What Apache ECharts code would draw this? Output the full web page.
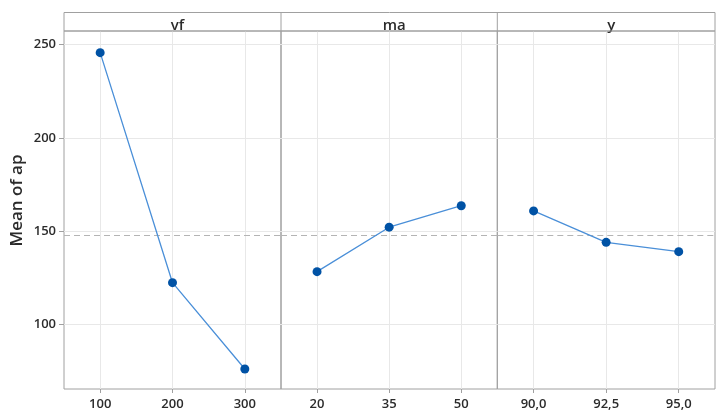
<!DOCTYPE html>
<html>
<head>
<meta charset="utf-8">
<script src="https://cdn.jsdelivr.net/npm/echarts@6/dist/echarts.min.js"></script>
<style>
  html, body { margin: 0; padding: 0; background: #fff; }
  #main { width: 725px; height: 420px; }
</style>
</head>
<body>
<div id="main"></div>
<script>
// data
var factors = ['vf', 'ma', 'y'];
var levelsVf = ['100', '200', '300'];
var levelsMa = ['20', '35', '50'];
var levelsY = ['90,0', '92,5', '95,0'];
var meansVf = [245.6, 122.5, 76.3];
var meansMa = [128.4, 152.2, 163.7];
var meansY = [160.9, 144.1, 139.1];
var grandMean = 148.0;
var yTicks = [100, 150, 200, 250];

var levels = [levelsVf, levelsMa, levelsY];
var means = [meansVf, meansMa, meansY];

// panel layout (px)
var plotLeft = 64, plotRight = 715, plotTop = 31, plotBottom = 389, headTop = 12.5;
var edges = [64, 281, 497.3, 715];

var fontFam = '"Open Sans", "Noto Sans", sans-serif';
var textCol = '#2b2b2b';
var frameCol = '#a0a0a0';
var gridCol = '#e8e8e8';

function initChart() {
    var myChart = echarts.init(document.getElementById('main'), null, {renderer: 'canvas'});

    var grids = [], xAxes = [], yAxes = [], series = [], titles = [];
    for (let i = 0; i < 3; i++) {
        grids.push({
            left: edges[i],
            width: edges[i + 1] - edges[i],
            top: plotTop,
            height: plotBottom - plotTop,
            show: true,
            borderColor: frameCol,
            borderWidth: 1
        });
        let labs = levels[i];
        xAxes.push({
            type: 'value',
            gridIndex: i,
            min: 0.5,
            max: 3.5,
            axisLine: { show: false },
            axisTick: {
                show: true,
                customValues: [1, 2, 3],
                length: 4,
                lineStyle: { color: frameCol }
            },
            axisLabel: {
                customValues: [1, 2, 3],
                formatter: function(v) { return labs[Math.round(v) - 1]; },
                fontSize: 13,
                fontWeight: 600,
                color: textCol,
                fontFamily: fontFam,
                margin: 9
            },
            splitLine: { show: true, lineStyle: { color: gridCol } }
        });
        yAxes.push({
            type: 'value',
            gridIndex: i,
            min: 65.6,
            max: 257.2,
            name: i === 0 ? 'Mean of ap' : '',
            nameLocation: 'middle',
            nameGap: 38,
            nameTextStyle: {
                fontSize: 17,
                fontWeight: 600,
                color: textCol,
                fontFamily: fontFam,
                padding: [0, 0, 0, 19]
            },
            axisLine: { show: false },
            axisTick: {
                show: i === 0,
                customValues: yTicks,
                length: 5,
                lineStyle: { color: frameCol }
            },
            axisLabel: {
                show: i === 0,
                customValues: yTicks,
                fontSize: 13,
                fontWeight: 600,
                color: textCol,
                fontFamily: fontFam,
                margin: 8
            },
            splitLine: { show: true, lineStyle: { color: gridCol } }
        });
        series.push({
            type: 'line',
            xAxisIndex: i,
            yAxisIndex: i,
            data: means[i].map(function(v, k) { return [k + 1, v]; }),
            symbol: 'circle',
            symbolSize: 9,
            lineStyle: { color: '#4a8fd8', width: 1.3 },
            itemStyle: { color: '#0052a5' },
            z: 5,
            markLine: {
                silent: true,
                symbol: ['none', 'none'],
                label: { show: false },
                lineStyle: { color: '#b4b4b4', type: [6, 4], width: 1.2 },
                data: [{ yAxis: grandMean }]
            }
        });
        titles.push({
            text: factors[i],
            left: (edges[i] + edges[i + 1]) / 2,
            top: 13,
            textAlign: 'center',
            textStyle: {
                fontSize: 15,
                fontWeight: 600,
                color: textCol,
                fontFamily: fontFam
            }
        });
    }

    var option = {
        backgroundColor: '#fff',
        animation: false,
        title: titles,
        grid: grids,
        xAxis: xAxes,
        yAxis: yAxes,
        series: series,
        graphic: [
            // header strip over the panels
            {
                type: 'rect',
                shape: { x: plotLeft, y: headTop, width: plotRight - plotLeft, height: plotTop - headTop },
                style: { fill: 'none', stroke: frameCol, lineWidth: 1 },
                z: 10
            },
            {
                type: 'line',
                shape: { x1: edges[1], y1: headTop, x2: edges[1], y2: plotTop },
                style: { stroke: frameCol, lineWidth: 1 },
                z: 10
            },
            {
                type: 'line',
                shape: { x1: edges[2], y1: headTop, x2: edges[2], y2: plotTop },
                style: { stroke: frameCol, lineWidth: 1 },
                z: 10
            }
        ]
    };

    myChart.setOption(option);
}

initChart();
</script>
</body>
</html>
